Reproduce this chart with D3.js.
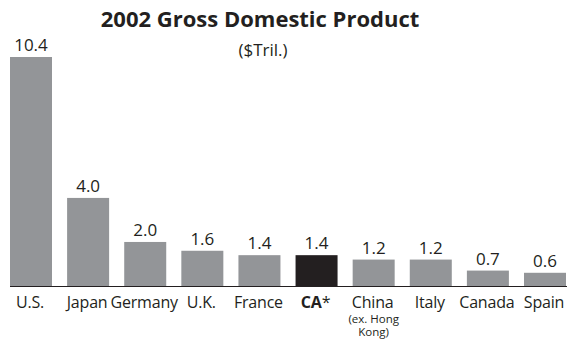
<!DOCTYPE html>
<html>
<head>
<meta charset="utf-8">
<script src="https://cdn.jsdelivr.net/npm/d3@7"></script>
<style>
  html, body { margin: 0; padding: 0; background: #fff; }
  svg { display: block; font-family: "Open Sans", "Noto Sans", sans-serif; }
</style>
</head>
<body>
<svg id="chart" width="567" height="341"></svg>
<script>
// 2002 GDP by economy, trillions of US dollars
const countries = ["U.S.", "Japan", "Germany", "U.K.", "France", "CA", "China", "Italy", "Canada", "Spain"];
const gdp = [10.4, 4.0, 2.0, 1.6, 1.4, 1.4, 1.2, 1.2, 0.7, 0.6];
const valueLabels = ["10.4", "4.0", "2.0", "1.6", "1.4", "1.4", "1.2", "1.2", "0.7", "0.6"];
const highlighted = "CA";
const chinaNote = ["(ex. Hong", "Kong)"];

const svg = d3.select("#chart");
const left = 10, right = 566, baseY = 286, topY = 57;

const x = d3.scaleBand()
  .domain(countries)
  .range([left, right])
  .paddingInner(0.2645)
  .paddingOuter(0);

const y = d3.scaleLinear()
  .domain([0, 10.4])
  .range([baseY, topY]);

// Title and unit
svg.append("text")
  .attr("x", 260).attr("y", 27)
  .attr("text-anchor", "middle")
  .attr("font-size", 22).attr("font-weight", 700)
  .attr("fill", "#231f20")
  .text("2002 Gross Domestic Product");

svg.append("text")
  .attr("x", 263).attr("y", 56)
  .attr("text-anchor", "middle")
  .attr("font-size", 17)
  .attr("fill", "#231f20")
  .text("($Tril.)");

// Bars
svg.selectAll("rect.bar")
  .data(countries)
  .join("rect")
  .attr("class", "bar")
  .attr("x", d => x(d))
  .attr("width", x.bandwidth())
  .attr("y", (d, i) => y(gdp[i]))
  .attr("height", (d, i) => baseY - y(gdp[i]))
  .attr("fill", d => d === highlighted ? "#231f20" : "#939598");

// Value labels above bars
svg.selectAll("text.value")
  .data(countries)
  .join("text")
  .attr("class", "value")
  .attr("x", d => x(d) + x.bandwidth() / 2)
  .attr("y", (d, i) => y(gdp[i]) - 6)
  .attr("text-anchor", "middle")
  .attr("font-size", 17)
  .attr("fill", "#231f20")
  .text((d, i) => valueLabels[i]);

// Baseline
svg.append("line")
  .attr("x1", left).attr("x2", 567)
  .attr("y1", baseY + 0.5).attr("y2", baseY + 0.5)
  .attr("stroke", "#231f20")
  .attr("stroke-width", 1.2);

// Category labels (China carries its footnote as extra lines)
const cat = svg.selectAll("text.cat")
  .data(countries)
  .join("text")
  .attr("class", "cat")
  .attr("x", d => x(d) + x.bandwidth() / 2 - 1)
  .attr("y", 308)
  .attr("text-anchor", "middle")
  .attr("font-size", 16)
  .attr("letter-spacing", -0.2)
  .attr("fill", "#231f20");

cat.each(function (d) {
  const t = d3.select(this);
  const cx = x(d) + x.bandwidth() / 2;
  if (d === highlighted) {
    t.append("tspan").attr("font-weight", 700).text(d);
    t.append("tspan").text("*");
  } else if (d === "China") {
    t.append("tspan").text(d);
    chinaNote.forEach((line, i) => {
      t.append("tspan")
        .attr("x", cx)
        .attr("y", 323 + i * 13)
        .attr("font-size", 11.5)
        .attr("letter-spacing", 0)
        .text(line);
    });
  } else {
    t.text(d);
  }
});
</script>
</body>
</html>
